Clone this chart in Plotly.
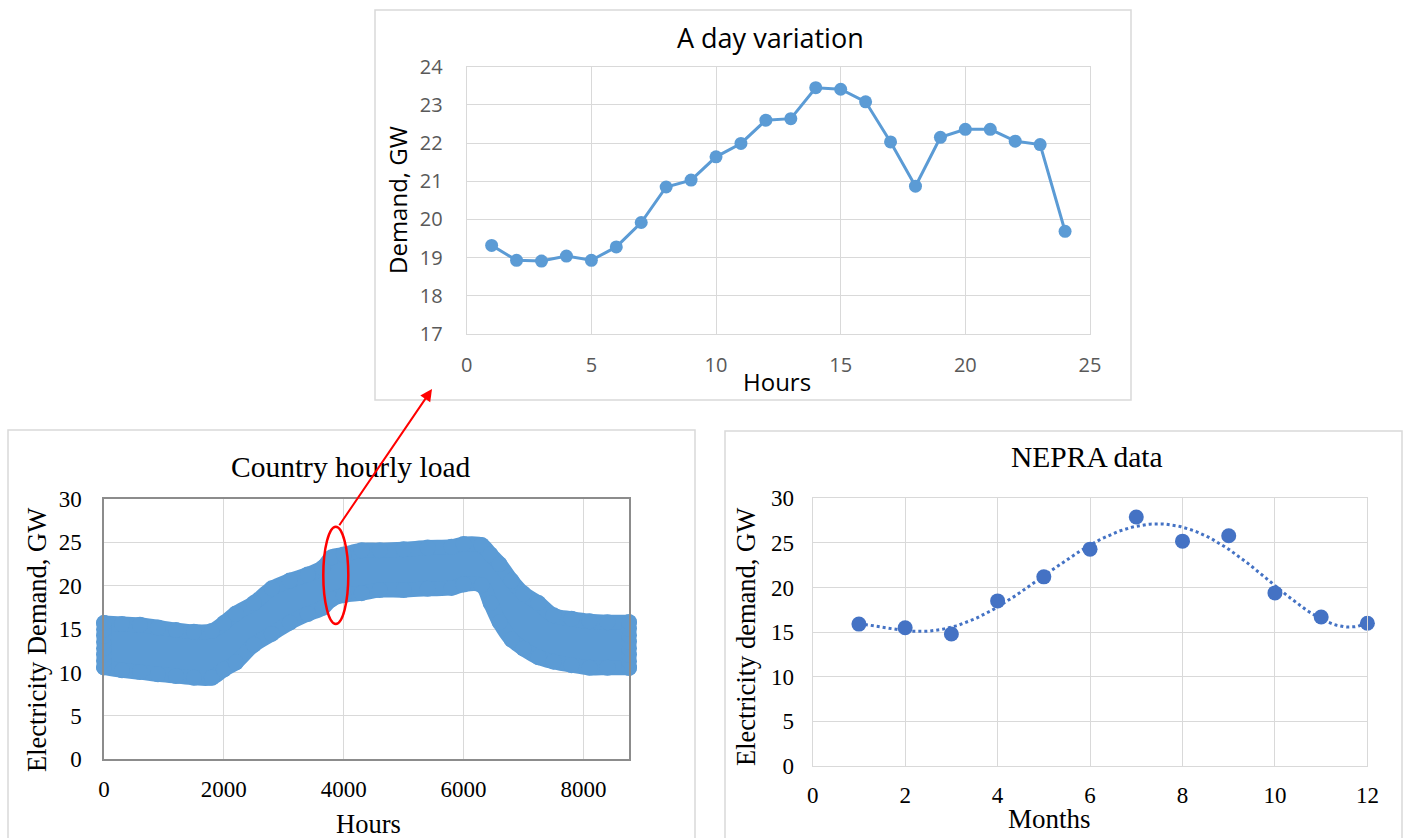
import numpy as np
import plotly.graph_objects as go

W, H = 1405, 838

# ---------------- data ----------------
# Top: a day variation
day_hours = list(range(1, 25))
day_demand = [19.32, 18.93, 18.91, 19.04, 18.93, 19.28, 19.92, 20.85, 21.03, 21.64, 21.99, 22.60,
              22.64, 23.45, 23.41, 23.08, 22.03, 20.87, 22.15, 22.36, 22.36, 22.05, 21.96, 19.69]

# Bottom-left: country hourly load, band envelope
load_hours = [0, 300, 600, 900, 1200, 1500, 1800, 2000, 2200, 2500, 2800, 3100, 3400, 3650, 3800,
              4000, 4300, 4600, 5000, 5400, 5800, 6000, 6300, 6450, 6600, 6800, 7000, 7250, 7500,
              7800, 8100, 8400, 8760]
load_upper = [15.7, 15.6, 15.5, 15.2, 14.9, 14.7, 14.8, 15.7, 16.8, 18.0, 19.7, 20.6, 21.3, 22.1, 23.3,
              23.6, 24.1, 24.1, 24.2, 24.4, 24.5, 24.8, 24.7, 23.6, 22.5, 20.6, 19.1, 18.0, 16.6,
              16.2, 15.9, 15.8, 15.8]
load_lower = [10.6, 10.25, 10.05, 9.8, 9.6, 9.4, 9.4, 10.35, 11.15, 13.2, 14.45, 15.75, 16.75, 17.45, 18.45,
              18.9, 19.15, 19.5, 19.5, 19.65, 19.75, 20.15, 20.05, 18.0, 15.8, 13.8, 12.75, 11.75, 11.25,
              10.85, 10.55, 10.55, 10.55]

# Bottom-right: NEPRA data
months = list(range(1, 13))
nepra_demand = [15.9, 15.5, 14.8, 18.5, 21.2, 24.3, 27.9, 25.2, 25.8, 19.4, 16.7, 16.0]

# ---------------- helpers ----------------
def px(x):
    return x / W

def py(y):
    return 1 - y / H

BLUE = '#5b9bd5'
DARKBLUE = '#4472c4'
GRID = '#d9d9d9'
SERIF = 'Liberation Serif, Times New Roman, serif'
SANS = 'Open Sans, Roboto, sans-serif'

fig = go.Figure()

# ---- top chart ----
fig.add_trace(go.Scatter(
    x=day_hours, y=day_demand, mode='lines+markers',
    line=dict(color=BLUE, width=3), marker=dict(color=BLUE, size=13),
    xaxis='x', yaxis='y', showlegend=False, cliponaxis=False))

# ---- bottom-left band ----
fig.add_trace(go.Scatter(
    x=load_hours, y=load_lower, mode='lines+markers',
    line=dict(color=BLUE, width=15, shape='spline'), marker=dict(color=BLUE, size=16),
    xaxis='x2', yaxis='y2', showlegend=False, cliponaxis=False))
fig.add_trace(go.Scatter(
    x=load_hours, y=load_upper, mode='lines+markers', fill='tonexty', fillcolor=BLUE,
    line=dict(color=BLUE, width=15, shape='spline'), marker=dict(color=BLUE, size=16),
    xaxis='x2', yaxis='y2', showlegend=False, cliponaxis=False))
edge_x = [load_hours[0]] * 8 + [load_hours[-1]] * 8
edge_y = list(np.linspace(load_lower[0], load_upper[0], 8)) + list(np.linspace(load_lower[-1], load_upper[-1], 8))
fig.add_trace(go.Scatter(
    x=edge_x, y=edge_y, mode='markers', marker=dict(color=BLUE, size=16),
    xaxis='x2', yaxis='y2', showlegend=False, cliponaxis=False))

# ---- bottom-right ----
coef = np.polyfit(months, nepra_demand, 6)
xf = np.linspace(months[0], months[-1], 200)
fig.add_trace(go.Scatter(
    x=xf, y=np.polyval(coef, xf), mode='lines',
    line=dict(color=DARKBLUE, width=3, dash='dot'),
    xaxis='x3', yaxis='y3', showlegend=False))
fig.add_trace(go.Scatter(
    x=months, y=nepra_demand, mode='markers',
    marker=dict(color=DARKBLUE, size=15),
    xaxis='x3', yaxis='y3', showlegend=False, cliponaxis=False))

# ---------------- axes ----------------
top_tick = dict(family=SANS, size=20, color='#595959')
ser_tick = dict(family=SERIF, size=23, color='#000000')

common = dict(showgrid=True, gridcolor=GRID, zeroline=False, showline=True, mirror=True,
              ticks='', automargin=False)

fig.update_layout(
    xaxis=dict(domain=[px(466.7), px(1090)], range=[0, 25], dtick=5, tick0=0, linecolor=GRID,
               tickfont=top_tick, ticklabelstandoff=13, anchor='y', **common),
    yaxis=dict(domain=[py(334), py(66.7)], range=[17, 24], dtick=1, linecolor=GRID,
               tickfont=top_tick, ticklabelstandoff=19, anchor='x', **common),
    xaxis2=dict(domain=[px(104), px(629)], range=[0, 8760], tickvals=[0, 2000, 4000, 6000, 8000],
                linecolor='#8c8c8c', linewidth=1.5, tickfont=ser_tick, ticklabelstandoff=8,
                anchor='y2', **common),
    yaxis2=dict(domain=[py(759.3), py(499)], range=[0, 30], dtick=5,
                linecolor='#8c8c8c', linewidth=1.5, tickfont=ser_tick, ticklabelstandoff=16,
                anchor='x2', **common),
    xaxis3=dict(domain=[px(812.7), px(1367.4)], range=[0, 12], dtick=2, linecolor=GRID,
                tickfont=ser_tick, ticklabelstandoff=8, anchor='y3', **common),
    yaxis3=dict(domain=[py(766), py(498.3)], range=[0, 30], dtick=5, linecolor=GRID,
                tickfont=ser_tick, ticklabelstandoff=13, anchor='x3', **common),
)

# ---------------- annotations (titles) ----------------
ann = [
    dict(text='A day variation', x=px(770), y=py(38), font=dict(family=SANS, size=27, color='#000')),
    dict(text='Hours', x=px(777), y=py(381), font=dict(family=SANS, size=24, color='#000')),
    dict(text='Demand, GW', x=px(398), y=py(200), textangle=-90, font=dict(family=SANS, size=24, color='#000')),
    dict(text='Country hourly load', x=px(351), y=py(467), font=dict(family=SERIF, size=29.5, color='#000')),
    dict(text='Hours', x=px(368), y=py(824), font=dict(family=SERIF, size=26.5, color='#000')),
    dict(text='Electricity Demand, GW', x=px(37), y=py(640), textangle=-90, font=dict(family=SERIF, size=26.5, color='#000')),
    dict(text='NEPRA data', x=px(1087), y=py(457), font=dict(family=SERIF, size=29.5, color='#000')),
    dict(text='Months', x=px(1049), y=py(819), font=dict(family=SERIF, size=27, color='#000')),
    dict(text='Electricity demand, GW', x=px(746), y=py(637), textangle=-90, font=dict(family=SERIF, size=26.5, color='#000')),
]
annotations = []
for a in ann:
    a.update(xref='paper', yref='paper', showarrow=False, xanchor='center', yanchor='middle')
    annotations.append(a)

# red arrow from ellipse to the top chart
annotations.append(dict(
    xref='paper', yref='paper', x=px(432), y=py(389), ax=338.3 - 432, ay=526.7 - 389,
    text='', showarrow=True, arrowhead=2, arrowsize=1.2, arrowwidth=2, arrowcolor='#ff0000'))

shapes = [
    dict(type='rect', xref='paper', yref='paper', x0=px(375), x1=px(1131), y0=py(400), y1=py(10),
         line=dict(color=GRID, width=1.5), layer='below'),
    dict(type='rect', xref='paper', yref='paper', x0=px(8), x1=px(695), y0=py(845), y1=py(430),
         line=dict(color=GRID, width=1.5), layer='below'),
    dict(type='rect', xref='paper', yref='paper', x0=px(725), x1=px(1402), y0=py(845), y1=py(431),
         line=dict(color=GRID, width=1.5), layer='below'),
    dict(type='circle', xref='paper', yref='paper', x0=px(323.3), x1=px(348.3), y0=py(624), y1=py(526.7),
         line=dict(color='#ff0000', width=2.5)),
]

fig.update_layout(
    width=W, height=H, autosize=False,
    margin=dict(l=0, r=0, t=0, b=0, pad=0, autoexpand=False),
    paper_bgcolor='white', plot_bgcolor='white',
    annotations=annotations, shapes=shapes, showlegend=False,
)

fig.write_html('out.html')
